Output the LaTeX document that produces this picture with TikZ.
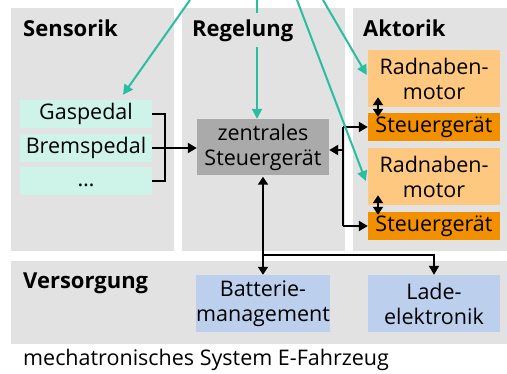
\documentclass[tikz,border=0pt]{standalone}
\usepackage{fontspec}
\setmainfont{Open Sans}
\usetikzlibrary{arrows.meta,calc}
\definecolor{panel}{RGB}{226,226,226}
\definecolor{mint}{RGB}{206,243,232}
\definecolor{ctrl}{RGB}{170,170,170}
\definecolor{motorc}{RGB}{255,200,128}
\definecolor{steuer}{RGB}{243,144,0}
\definecolor{supply}{RGB}{188,208,238}
\definecolor{teal}{RGB}{42,190,160}
\begin{document}
\begin{tikzpicture}[x=1pt,y=-1pt,
  txt/.style={font=\fontsize{21.5}{25}\selectfont},
  head/.style={font=\fontsize{22}{25}\selectfont\bfseries, anchor=base west, inner sep=0pt},
  box/.style={txt, rectangle, inner sep=0pt, minimum width=132pt, align=center},
  onebox/.style={box, minimum height=28pt},
  twobox/.style={box, minimum height=57pt},
  blk/.style={line width=2pt, -{Triangle[length=9pt,width=10pt]}},
  dblk/.style={line width=2pt, {Triangle[length=8pt,width=10pt]}-{Triangle[length=8pt,width=10pt]}},
  grn/.style={line width=2pt, draw=teal, -{Triangle[length=10pt,width=10pt]}, teal},
  ]
\useasboundingbox (0,0) rectangle (507,373);
% panels
\fill[panel] (11,8) rectangle (174,251);
\fill[panel] (182,8) rectangle (345,251);
\fill[panel] (353,8) rectangle (507,251);
\fill[panel] (11,261) rectangle (507,344);
% headings
\node[head] (hS) at (23,36) {Sensorik};
\node[head] (hA) at (363,36) {Aktorik};
\node[head] (hV) at (23,288) {Versorgung};
% sensor boxes
\node[onebox, fill=mint] (gas) at (86,114) {Gaspedal};
\node[onebox, fill=mint] (brems) at (86,148) {Bremspedal};
\node[onebox, fill=mint] (more) at (86,181) {\vphantom{Gaspedal}…};
% central
\node[twobox, fill=ctrl, minimum height=56pt] (zs) at (263,147) {zentrales\\Steuergerät};
% actuators
\node[twobox, fill=motorc] (m1) at (434,78.5) {Radnaben-\\motor};
\node[onebox, fill=steuer] (s1) at (434,127) {Steuergerät};
\node[twobox, fill=motorc] (m2) at (434,176.5) {Radnaben-\\motor};
\node[onebox, fill=steuer] (s2) at (434,226) {Steuergerät};
% supply
\node[twobox, fill=supply] (bm) at (263,303.5) {Batterie-\\management};
\node[twobox, fill=supply] (le) at (434,303.5) {Lade-\\elektronik};
% caption
\node[txt, anchor=base west, inner sep=0pt] (cap) at (23,365) {mechatronisches System E-Fahrzeug};
% black connectors
\coordinate (bx) at (165,0);
\draw[line width=2pt] (gas.east) -- (gas.east -| bx) -- (more.east -| bx) -- (more.east);
\draw[blk] (brems.east) -- (zs.west |- brems.east);
\coordinate (busx) at (343,0);
\coordinate (iny) at (0,150);
\draw[line width=2pt] (s1.west -| busx) -- (s2.west -| busx);
\draw[blk] (iny -| busx) -- (iny -| zs.east);
\draw[blk] (s1.west -| busx) -- (s1.west);
\draw[blk] (s2.west -| busx) -- (s2.west);
\coordinate (dx) at (378,0);
\draw[dblk] ($(m1.south -| dx)+(0,-10)$) -- ($(s1.north -| dx)+(0,4)$);
\draw[dblk] ($(m2.south -| dx)+(0,-10)$) -- ($(s2.north -| dx)+(0,3)$);
\coordinate (hy) at (0,255);
\draw[dblk] ($(zs.south)+(0,1.5)$) -- (bm.north);
\draw[blk] (hy -| zs.south) -- (hy -| le.north) -- (le.north);
% teal arrows
\coordinate (g1) at (190,0);
\coordinate (g2) at (257,0);
\coordinate (g3) at (297,0);
\coordinate (g4) at (323,0);
\draw[grn] (g1) -- ($(gas.north)+(37,-5)$);
\draw[grn] (g2) -- (zs.north -| g2);
\draw[grn] (g3) -- ($(m2.west)+(-2,4.5)$);
\draw[grn] (g4) -- ($(m1.west)+(-1,-3.5)$);
% Regelung heading over the teal line
\node[head, fill=panel, inner xsep=2pt, inner ysep=6pt] (hR) at (190,36) {Regelung};
\end{tikzpicture}
\end{document}
